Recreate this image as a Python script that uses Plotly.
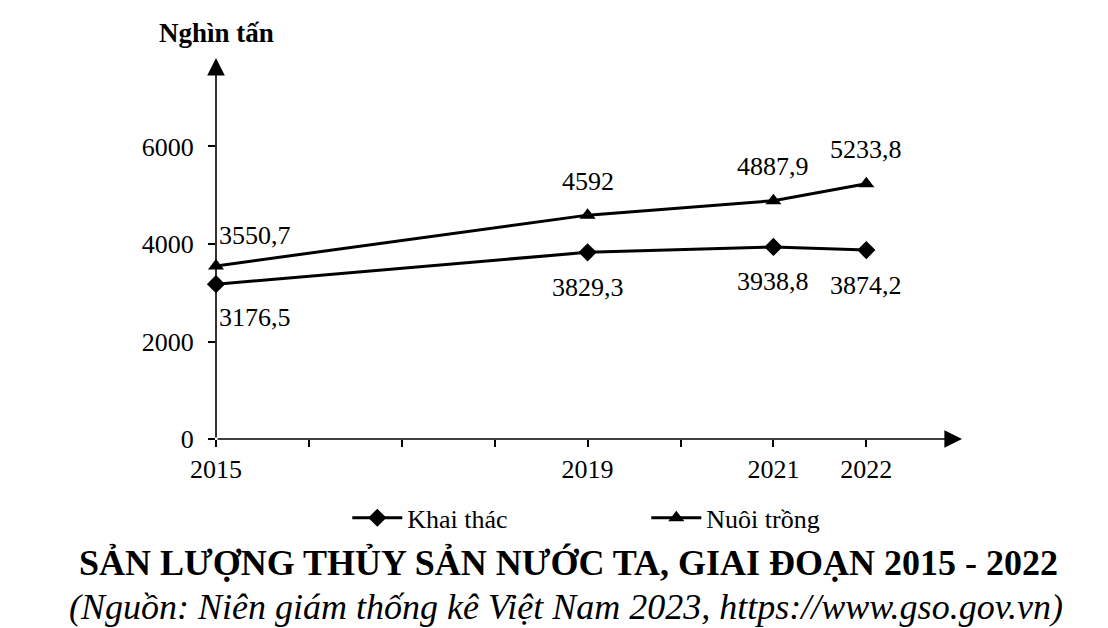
import plotly.graph_objects as go

# san luong thuy san (nghin tan)
years = [2015, 2019, 2021, 2022]
khai_thac = [3176.5, 3829.3, 3938.8, 3874.2]
nuoi_trong = [3550.7, 4592, 4887.9, 5233.8]

tick_years = list(range(2015, 2023))
tick_labels = [str(y) if y in years else "" for y in tick_years]
y_ticks = [0, 2000, 4000, 6000]

def vn_num(v):
    # dau phay thap phan kieu Viet Nam
    return f"{v:g}".replace(".", ",")

FONT = "Liberation Serif"
x_end = 2023.03
y_end = 7815

fig = go.Figure()

fig.add_trace(go.Scatter(
    x=years, y=khai_thac, name="Khai thác",
    mode="lines+markers",
    line=dict(color="black", width=3),
    marker=dict(symbol="diamond", size=14, color="black"),
    cliponaxis=False,
))

fig.add_trace(go.Scatter(
    x=years, y=nuoi_trong, name="Nuôi trồng",
    mode="lines+markers",
    line=dict(color="black", width=3),
    marker=dict(symbol="triangle-up", size=14, color="black"),
    cliponaxis=False,
))

# nhan so lieu: khai thac o duoi, nuoi trong o tren
for i, (yr, kt, nt) in enumerate(zip(years, khai_thac, nuoi_trong)):
    first = i == 0
    fig.add_annotation(x=yr, y=kt, text=vn_num(kt), showarrow=False,
                       xanchor="left" if first else "center",
                       xshift=1 if first else 0, yshift=-33 if first else -35,
                       font=dict(family=FONT, size=26, color="black"))
    fig.add_annotation(x=yr, y=nt, text=vn_num(nt), showarrow=False,
                       xanchor="left" if first else "center",
                       xshift=1 if first else 0, yshift=30 if first else 34,
                       font=dict(family=FONT, size=26, color="black"))

# truc co mui ten
fig.add_annotation(x=x_end, y=0, ax=2015, ay=0, axref="x", ayref="y",
                   xref="x", yref="y", text="", showarrow=True,
                   arrowhead=2, arrowsize=2.2, arrowwidth=1.6, arrowcolor="black")
fig.add_annotation(x=2015, y=y_end, ax=2015, ay=0, axref="x", ayref="y",
                   xref="x", yref="y", text="", showarrow=True,
                   arrowhead=2, arrowsize=2.2, arrowwidth=1.6, arrowcolor="black")

fig.add_annotation(x=2015, y=y_end, xref="x", yref="y", yshift=25,
                   text="<b>Nghìn tấn</b>", showarrow=False,
                   font=dict(family=FONT, size=27, color="black"))
fig.add_annotation(x=x_end + 0.07, y=0, xref="x", yref="y", xanchor="right", yshift=-40,
                   text="<b>Năm</b>", showarrow=False,
                   font=dict(family=FONT, size=26, color="black"))

fig.add_annotation(x=0.472, xref="paper", yref="paper", y=-0.325, yanchor="middle",
                   text="<b>SẢN LƯỢNG THỦY SẢN NƯỚC TA, GIAI ĐOẠN 2015 - 2022</b>",
                   showarrow=False, font=dict(family=FONT, size=36, color="black"))
fig.add_annotation(x=0.469, xref="paper", yref="paper", y=-0.44, yanchor="middle",
                   text="<i>(Nguồn: Niên giám thống kê Việt Nam 2023, https://www.gso.gov.vn)</i>",
                   showarrow=False, font=dict(family=FONT, size=36, color="black"))

fig.update_xaxes(
    range=[2015, x_end], tickvals=tick_years, ticktext=tick_labels,
    ticks="outside", ticklen=7, tickwidth=1.6, tickcolor="black",
    showgrid=False, zeroline=False, showline=False,
    tickfont=dict(family=FONT, size=26, color="black"),
    fixedrange=True, automargin=False,
)
fig.update_yaxes(
    range=[0, y_end], tickvals=y_ticks,
    ticks="outside", ticklen=7, tickwidth=1.6, tickcolor="black",
    ticklabelstandoff=9,
    showgrid=False, zeroline=False, showline=False,
    tickfont=dict(family=FONT, size=26, color="black"),
    fixedrange=True, automargin=False,
)

# trang co le 8px nen tru bot
fig.update_layout(
    width=1108, height=628,
    margin=dict(l=208, r=154, t=50, b=197, autoexpand=False),
    plot_bgcolor="white", paper_bgcolor="white",
    showlegend=True,
    legend=dict(orientation="h", x=0.176, xanchor="left", y=-0.207, yanchor="middle",
                font=dict(family=FONT, size=26, color="black"),
                itemwidth=50, entrywidth=234),
)

fig.write_html("out.html")
